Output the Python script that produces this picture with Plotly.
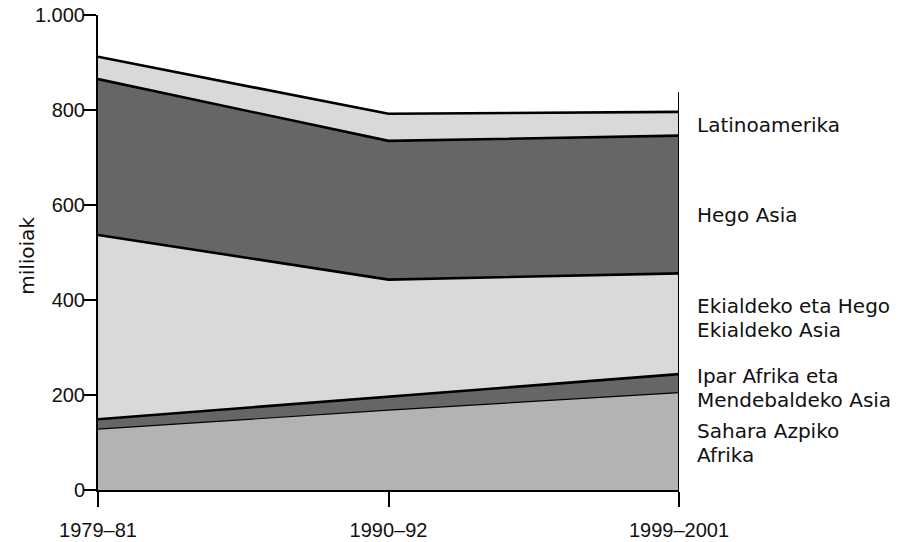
import plotly.graph_objects as go

# Periods on the horizontal axis
periods = ["1979–81", "1990–92", "1999–2001"]

# Undernourished people by region, millions (stacked bottom to top)
sahara_azpiko_afrika = [128, 168, 205]
ipar_afrika_mendebaldeko_asia = [21, 28, 39]
ekialdeko_hego_ekialdeko_asia = [388, 247, 212]
hego_asia = [328, 292, 290]
latinoamerika = [47, 57, 50]

series = [
    ("Sahara Azpiko Afrika", sahara_azpiko_afrika, "#b3b3b3", 1.2),
    ("Ipar Afrika eta Mendebaldeko Asia", ipar_afrika_mendebaldeko_asia, "#666666", 2.6),
    ("Ekialdeko eta Hego Ekialdeko Asia", ekialdeko_hego_ekialdeko_asia, "#d9d9d9", 2.6),
    ("Hego Asia", hego_asia, "#666666", 2.6),
    ("Latinoamerika", latinoamerika, "#d9d9d9", 2.6),
]

# Right-hand labels: (lines, vertical position in plot fraction)
side_labels = [
    (["Latinoamerika"], 0.768),
    (["Hego Asia"], 0.579),
    (["Ekialdeko eta Hego", "Ekialdeko Asia"], 0.362),
    (["Ipar Afrika eta", "Mendebaldeko Asia"], 0.215),
    (["Sahara Azpiko", "Afrika"], 0.098),
]

xpos = list(range(len(periods)))

fig = go.Figure()
for name, vals, color, lw in series:
    fig.add_trace(go.Scatter(
        x=xpos, y=vals, name=name, mode="lines",
        stackgroup="one", fillcolor=color,
        line=dict(color="black", width=lw),
        hoverinfo="skip",
    ))

label_font = dict(family="DejaVu Sans", size=20, color="#111111")
line_gap = 24 / 475  # one text line, as a fraction of the plot height
for lines, yc in side_labels:
    n = len(lines)
    for i, txt in enumerate(lines):
        y = yc + ((n - 1) / 2 - i) * line_gap
        fig.add_annotation(
            text=txt, xref="paper", yref="paper", x=1, y=y,
            xanchor="left", yanchor="middle", xshift=16,
            showarrow=False, font=label_font,
        )

# Y-axis title, rotated
fig.add_annotation(
    text="milioiak", xref="paper", yref="paper", x=0, y=0.493,
    xanchor="center", yanchor="middle", xshift=-71, textangle=-90,
    showarrow=False, font=label_font,
)

# Vertical rule closing the chart on the right
fig.add_shape(type="line", xref="x", yref="paper",
              x0=2, x1=2, y0=-15 / 475, y1=0.838,
              line=dict(color="black", width=2))

tick_font = dict(family="Liberation Sans", size=20, color="#111111")
fig.update_layout(
    width=901, height=542,
    margin=dict(l=98, r=222, t=15, b=52),
    paper_bgcolor="white", plot_bgcolor="white",
    showlegend=False,
    xaxis=dict(
        range=[0, 2], tickvals=xpos, ticktext=periods,
        showgrid=False, zeroline=False, automargin=False,
        showline=True, linecolor="black", linewidth=1.5,
        ticks="outside", ticklen=15, tickwidth=1.5, tickcolor="black",
        tickfont=tick_font, ticklabelstandoff=6,
    ),
    yaxis=dict(
        range=[0, 1000], tickvals=[0, 200, 400, 600, 800, 1000],
        ticktext=["0", "200", "400", "600", "800", "1.000"],
        showgrid=False, zeroline=False, automargin=False,
        showline=True, linecolor="black", linewidth=2,
        ticks="outside", ticklen=13, tickwidth=1.5, tickcolor="black",
        tickfont=tick_font, ticklabelstandoff=-6,
    ),
)

fig.write_html("out.html")
